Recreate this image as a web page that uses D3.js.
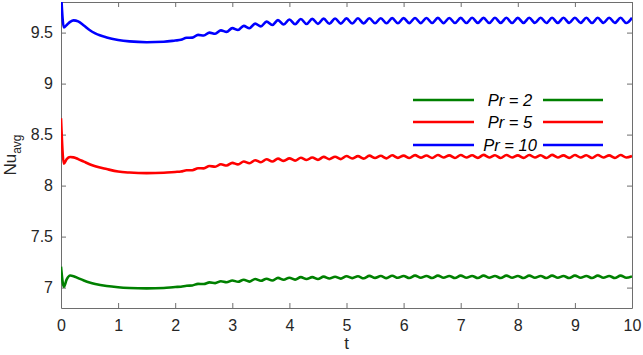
<!DOCTYPE html>
<html><head><meta charset="utf-8">
<script src="https://cdn.jsdelivr.net/npm/d3@7"></script>
<style>body{margin:0;background:#fff}svg{display:block}</style>
</head><body><svg id="c" width="643" height="355"></svg>
<script>
const t = [0,0.05,0.1,0.16,0.22,0.3,0.4,0.5,0.6,0.8,1.0,1.2,1.5,1.8,
2.0,2.1,2.2,2.3,2.4,2.5,2.6,2.7,2.8,2.9,3.0,3.1,3.2,3.3,3.4,3.5,3.6,3.7,3.8,3.9,
4.0,4.1,4.2,4.3,4.4,4.5,4.6,4.7,4.8,4.9,5.0,5.1,5.2,5.3,5.4,5.5,5.6,5.7,5.8,5.9,
6.0,6.1,6.2,6.3,6.4,6.5,6.6,6.7,6.8,6.9,7.0,7.1,7.2,7.3,7.4,7.5,7.6,7.7,7.8,7.9,
8.0,8.1,8.2,8.3,8.4,8.5,8.6,8.7,8.8,8.9,9.0,9.1,9.2,9.3,9.4,9.5,9.6,9.7,9.8,9.9,10.0];

const nuPr10 = [9.90,9.55,9.575,9.605,9.62,9.61,9.57,9.525,9.492,9.452,9.428,9.414,9.406,9.41,
9.422,9.429,9.449,9.451,9.478,9.471,9.500,9.489,9.522,9.507,9.544,9.525,9.566,9.543,9.588,9.561,9.608,9.574,9.622,9.580,
9.629,9.582,9.633,9.584,9.635,9.586,9.637,9.587,9.638,9.588,9.639,9.589,9.640,9.590,9.640,9.591,9.641,9.591,9.642,9.592,
9.642,9.593,9.643,9.593,9.643,9.594,9.644,9.593,9.643,9.594,9.644,9.594,9.645,9.595,9.644,9.594,9.645,9.595,9.645,9.594,
9.644,9.595,9.645,9.595,9.646,9.594,9.645,9.595,9.645,9.595,9.646,9.595,9.645,9.594,9.645,9.595,9.646,9.595,9.645,9.594,9.645];

const nuPr5 = [8.66,8.215,8.26,8.28,8.277,8.26,8.235,8.21,8.19,8.162,8.138,8.128,8.122,8.126,
8.134,8.138,8.150,8.151,8.170,8.169,8.192,8.185,8.209,8.197,8.223,8.208,8.236,8.219,8.249,8.229,8.258,8.236,8.264,8.242,
8.267,8.245,8.273,8.251,8.276,8.252,8.282,8.259,8.283,8.260,8.290,8.266,8.289,8.264,8.294,8.270,8.292,8.267,8.297,8.272,
8.294,8.270,8.299,8.274,8.295,8.271,8.300,8.275,8.296,8.271,8.300,8.275,8.297,8.272,8.301,8.276,8.297,8.271,8.300,8.275,
8.296,8.272,8.300,8.275,8.297,8.271,8.301,8.276,8.296,8.272,8.300,8.275,8.297,8.271,8.300,8.275,8.296,8.272,8.300,8.275,8.290];

const nuPr2 = [7.205,7.008,7.08,7.118,7.112,7.093,7.07,7.05,7.035,7.015,7.003,6.996,6.992,6.996,
7.006,7.009,7.018,7.021,7.037,7.035,7.051,7.044,7.062,7.052,7.070,7.057,7.077,7.059,7.085,7.067,7.087,7.069,7.095,7.077,
7.097,7.078,7.103,7.084,7.103,7.084,7.108,7.089,7.107,7.088,7.112,7.093,7.111,7.091,7.115,7.095,7.113,7.093,7.116,7.096,
7.114,7.094,7.117,7.097,7.114,7.094,7.117,7.097,7.114,7.094,7.117,7.097,7.114,7.094,7.117,7.097,7.114,7.094,7.117,7.097,
7.114,7.094,7.117,7.097,7.114,7.094,7.117,7.097,7.114,7.094,7.117,7.097,7.114,7.094,7.117,7.097,7.114,7.094,7.117,7.097,7.110];

const seriesNames = ["Pr = 2","Pr = 5","Pr = 10"];
const seriesColors = ["#008000","#ff0000","#0000ff"];
const xTicks = [0,1,2,3,4,5,6,7,8,9,10];
const yTicks = [7,7.5,8,8.5,9,9.5];

const series = [nuPr2, nuPr5, nuPr10].map((v,i)=>({name:seriesNames[i], color:seriesColors[i],
  pts: t.map((tt,j)=>[tt, v[j]])}));

const L=61, R=632, T=2, B=308;
const svg = d3.select("#c");
const x = d3.scaleLinear().domain([0,10]).range([L,R]);
const y = d3.scaleLinear().domain([6.8,9.8]).range([B,T]);

svg.append("defs").append("clipPath").attr("id","clip")
  .append("rect").attr("x",L).attr("y",T).attr("width",R-L).attr("height",B-T);

const axisColor = "#6e6e6e", textColor="#262626";
const fontF = "'Liberation Sans', Arial, Helvetica, sans-serif";

function styleAxis(g){
  g.selectAll("path.domain").attr("stroke",axisColor).attr("stroke-width",1);
  g.selectAll(".tick line").attr("stroke",axisColor);
  g.selectAll(".tick text").attr("fill",textColor).attr("font-size",16).attr("font-family",fontF);
}
svg.append("g").attr("transform",`translate(0,${B})`)
  .call(d3.axisBottom(x).tickValues(xTicks).tickFormat(d=>String(d)).tickSizeInner(-5).tickSizeOuter(0).tickPadding(12)).call(styleAxis);
svg.append("g").attr("transform",`translate(0,${T})`)
  .call(d3.axisTop(x).tickValues(xTicks).tickFormat("").tickSizeInner(-5).tickSizeOuter(0)).call(styleAxis);
svg.append("g").attr("transform",`translate(${L},0)`)
  .call(d3.axisLeft(y).tickValues(yTicks).tickFormat(d=>String(d)).tickSizeInner(-5).tickSizeOuter(0).tickPadding(8)).call(styleAxis);
svg.append("g").attr("transform",`translate(${R},0)`)
  .call(d3.axisRight(y).tickValues(yTicks).tickFormat("").tickSizeInner(-5).tickSizeOuter(0)).call(styleAxis);

const line = d3.line().x(d=>x(d[0])).y(d=>y(d[1])).curve(d3.curveMonotoneX);
svg.append("g").attr("clip-path","url(#clip)").selectAll("path").data(series).join("path")
  .attr("d",d=>line(d.pts)).attr("fill","none").attr("stroke",d=>d.color)
  .attr("stroke-width",2.6).attr("stroke-linejoin","round");

// axis labels
svg.append("text").attr("x",(L+R)/2).attr("y",349).attr("text-anchor","middle")
  .attr("font-size",17).attr("font-family",fontF).attr("fill",textColor).text("t");
const yl = svg.append("text").attr("transform",`translate(16,${(T+B)/2}) rotate(-90)`)
  .attr("text-anchor","middle").attr("font-family",fontF).attr("fill",textColor);
yl.append("tspan").attr("font-size",17).text("Nu");
yl.append("tspan").attr("font-size",12).attr("dy",5).text("avg");

// legend
const legY = [100,122,145];
const lg = svg.append("g");
series.forEach((s,i)=>{
  const yy = legY[i];
  lg.append("line").attr("x1",413).attr("x2",474).attr("y1",yy).attr("y2",yy).attr("stroke",s.color).attr("stroke-width",2.4);
  lg.append("line").attr("x1",543).attr("x2",603).attr("y1",yy).attr("y2",yy).attr("stroke",s.color).attr("stroke-width",2.4);
  lg.append("text").attr("x",510).attr("y",yy+6).attr("text-anchor","middle").attr("font-style","italic")
    .attr("font-size",16.5).attr("font-family",fontF).attr("fill","#000").text(s.name);
});
</script></body></html>
